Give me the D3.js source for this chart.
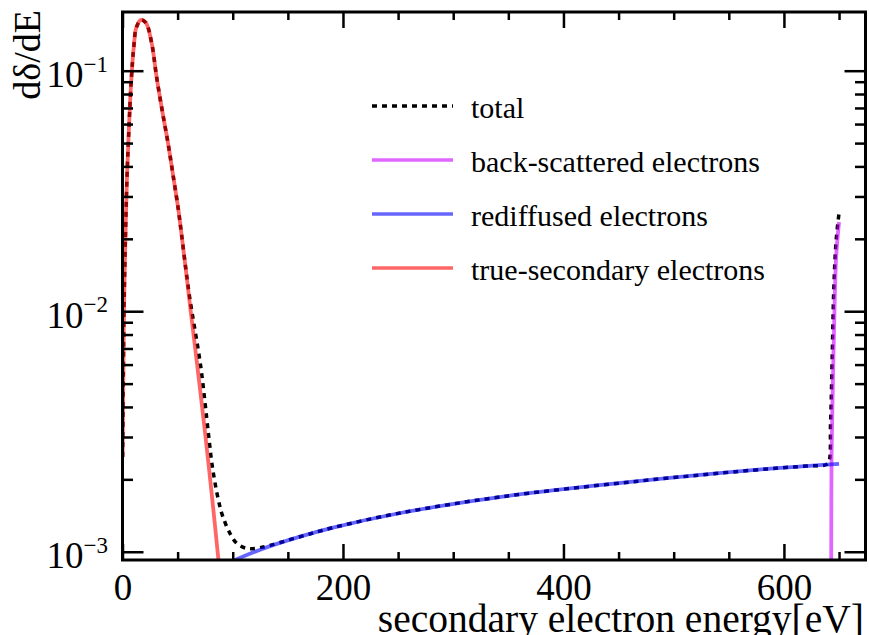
<!DOCTYPE html>
<html>
<head>
<meta charset="utf-8">
<script src="https://cdn.jsdelivr.net/npm/d3@7"></script>
<style>
body { margin: 0; background: #fff; }
text { font-family: "Liberation Serif", "Times New Roman", serif; fill: #000; }
</style>
</head>
<body>
<script>
// energies in eV, values in dδ/dE
var trueSecE = [0.1, 0.73, 1.36, 2.54, 4.08, 5.9, 8.0, 10.4, 12.5, 16.8, 21.3, 26.5, 30.9, 35.9, 41.3, 46.1, 50.7, 53.7, 57.6, 61.2, 68.0, 74.9, 81.0, 87.5];
var trueSecV = [2.48e-3, 5.34e-3, 1.01e-2, 1.92e-2, 3.62e-2, 5.85e-2, 9.2e-2, 0.128, 0.1510, 0.1626, 0.158, 0.130, 0.0944, 0.0687, 0.050, 0.0362, 0.0264, 0.0206, 0.0147, 0.0106, 5.85e-3, 3.12e-3, 1.73e-3, 8.8e-4];

var rediffE = [100, 125, 161, 191, 252, 342, 463, 585, 620, 650];
var rediffV = [9.15e-4, 1.02e-3, 1.155e-3, 1.26e-3, 1.449e-3, 1.688e-3, 1.955e-3, 2.21e-3, 2.27e-3, 2.32e-3];

var backE = [642.6, 642.9, 643.2, 644.3, 645.6, 647.4, 650];
var backV = [8.0e-4, 9.5e-4, 2.48e-3, 4.70e-3, 8.93e-3, 1.69e-2, 2.35e-2];

var totalE = [0.1, 0.73, 1.36, 2.54, 4.08, 5.9, 8.0, 10.4, 12.5, 16.8, 21.3, 26.5, 30.9, 35.9, 41.3, 46.1, 50.7, 53.7, 57.6, 61.2, 71.0, 77.9, 81.5, 87.0, 91.0, 97.6, 103.7, 112.7, 124.8, 161, 191, 252, 342, 463, 585, 620, 638, 640.7, 642.3, 643.8, 645.2, 647.4, 650];
var totalV = [2.48e-3, 5.34e-3, 1.01e-2, 1.92e-2, 3.62e-2, 5.85e-2, 9.2e-2, 0.128, 0.1510, 0.1626, 0.158, 0.130, 0.0944, 0.0687, 0.050, 0.0362, 0.0264, 0.0206, 0.0148, 0.0112, 5.87e-3, 3.11e-3, 2.26e-3, 1.64e-3, 1.40e-3, 1.19e-3, 1.084e-3, 1.033e-3, 1.04e-3, 1.155e-3, 1.26e-3, 1.449e-3, 1.688e-3, 1.955e-3, 2.21e-3, 2.27e-3, 2.30e-3, 2.36e-3, 3.43e-3, 6.48e-3, 1.225e-2, 1.98e-2, 2.56e-2];

var xMajor = [0, 200, 400, 600];
var xMinor = [50, 100, 150, 250, 300, 350, 450, 500, 550, 650];
var yMajor = [1e-3, 1e-2, 1e-1];
var yMinor = [2e-3, 3e-3, 4e-3, 5e-3, 6e-3, 7e-3, 8e-3, 9e-3, 2e-2, 3e-2, 4e-2, 5e-2, 6e-2, 7e-2, 8e-2, 9e-2];
var yExp = ["\u22123", "\u22122", "\u22121"];

var legendNames = ["total", "back-scattered electrons", "rediffused electrons", "true-secondary electrons"];
var legendColors = ["#000", "#cc00ff", "#0000ff", "#ff0000"];

var W = 869, H = 635;
var frame = {left: 122.5, right: 865.5, top: 12, bottom: 560};

var svg = d3.select("body").append("svg")
    .attr("width", W)
    .attr("height", H);

var x = d3.scaleLinear().domain([0, 674]).range([frame.left, frame.right]);
var y = d3.scaleLog().domain([9.24e-4, 0.1754]).range([frame.bottom, frame.top]);

svg.append("clipPath").attr("id", "clip")
    .append("rect")
    .attr("x", frame.left).attr("y", frame.top)
    .attr("width", frame.right - frame.left).attr("height", frame.bottom - frame.top);

function zip(es, vs) {
    return es.map(function(e, i) { return {e: e, v: vs[i]}; });
}

var line = d3.line()
    .x(function(d) { return x(d.e); })
    .y(function(d) { return y(d.v); })
    .curve(d3.curveCatmullRom.alpha(0.5));

var plot = svg.append("g").attr("clip-path", "url(#clip)");

// total first, colored ones on top with alpha
plot.append("path")
    .attr("d", line(zip(totalE, totalV)))
    .attr("fill", "none")
    .attr("stroke", "#000")
    .attr("stroke-width", 3.5)
    .attr("stroke-dasharray", "5,5");

var series = [[backE, backV, legendColors[1]], [rediffE, rediffV, legendColors[2]], [trueSecE, trueSecV, legendColors[3]]];
series.forEach(function(s) {
    plot.append("path")
        .attr("d", line(zip(s[0], s[1])))
        .attr("fill", "none")
        .attr("stroke", s[2])
        .attr("stroke-opacity", 0.6)
        .attr("stroke-width", 3.8);
});

// ticks on all four sides, pointing in
function ticks(axis, tr) {
    var g = svg.append("g").attr("transform", tr).call(axis);
    g.select(".domain").remove();
    g.selectAll("line").attr("stroke", "#000").attr("stroke-width", 2.5);
    return g;
}

var bx = ticks(d3.axisBottom(x).tickValues(xMajor).tickSize(-16).tickPadding(14), "translate(0," + frame.bottom + ")");
bx.selectAll("text").attr("font-size", 37).attr("font-family", "Liberation Serif");
ticks(d3.axisBottom(x).tickValues(xMinor).tickSize(-8).tickFormat(""), "translate(0," + frame.bottom + ")");
ticks(d3.axisTop(x).tickValues(xMajor).tickSize(-16).tickFormat(""), "translate(0," + frame.top + ")");
ticks(d3.axisTop(x).tickValues(xMinor).tickSize(-8).tickFormat(""), "translate(0," + frame.top + ")");
ticks(d3.axisLeft(y).tickValues(yMajor).tickSize(-21).tickFormat(""), "translate(" + frame.left + ",0)");
ticks(d3.axisLeft(y).tickValues(yMinor).tickSize(-10.5).tickFormat(""), "translate(" + frame.left + ",0)");
ticks(d3.axisRight(y).tickValues(yMajor).tickSize(-21).tickFormat(""), "translate(" + frame.right + ",0)");
ticks(d3.axisRight(y).tickValues(yMinor).tickSize(-10.5).tickFormat(""), "translate(" + frame.right + ",0)");

// 10^n labels
yMajor.forEach(function(v, i) {
    var t = svg.append("text")
        .attr("x", 108)
        .attr("y", y(v) + 16.5)
        .attr("text-anchor", "end")
        .attr("font-size", 37);
    t.append("tspan").text("10");
    t.append("tspan").attr("font-size", 23).attr("dy", -15.5).text(yExp[i]);
});

svg.append("rect")
    .attr("x", frame.left).attr("y", frame.top)
    .attr("width", frame.right - frame.left).attr("height", frame.bottom - frame.top)
    .attr("fill", "none")
    .attr("stroke", "#000")
    .attr("stroke-width", 3);

// axis titles
svg.append("text")
    .attr("x", 864)
    .attr("y", 632)
    .attr("text-anchor", "end")
    .attr("font-size", 39.5)
    .text("secondary electron energy[eV]");

svg.append("text")
    .attr("transform", "translate(40,10) rotate(-90)")
    .attr("text-anchor", "end")
    .attr("font-size", 38)
    .text("d\u03b4/dE");

// legend
var leg = svg.append("g");
legendNames.forEach(function(name, i) {
    var ly = 106 + i * 54;
    var l = leg.append("line")
        .attr("x1", 372).attr("x2", 453)
        .attr("y1", ly).attr("y2", ly)
        .attr("stroke", legendColors[i])
        .attr("stroke-width", 3.5);
    if (i == 0) l.attr("stroke-dasharray", "5,5");
    else l.attr("stroke-opacity", 0.6);
    leg.append("text")
        .attr("x", 471)
        .attr("y", ly + 11.5)
        .attr("font-size", 30)
        .text(name);
});
</script>
</body>
</html>
